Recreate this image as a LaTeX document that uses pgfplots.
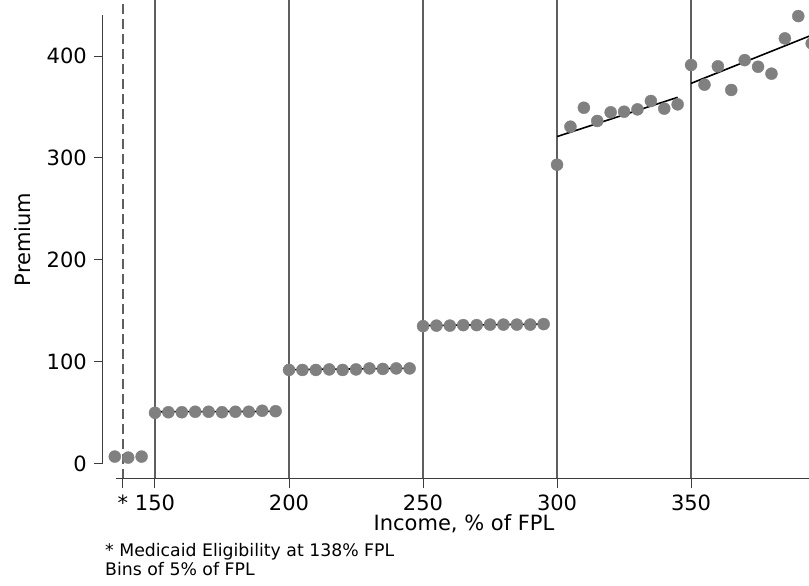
\documentclass[border=0pt]{standalone}
\usepackage{pgfplots}
\pgfplotsset{compat=1.18}
\usepackage{fontspec}
\setmainfont{DejaVu Sans}
\definecolor{ptgray}{RGB}{128,128,128}
\definecolor{vgray}{RGB}{95,95,95}
\definecolor{spgray}{RGB}{60,60,60}
\begin{document}
\fontsize{21}{25}\selectfont
\begin{tikzpicture}
\path[use as bounding box] (-103pt,-107pt) rectangle (706pt,479pt);
\begin{axis}[
  scale only axis, width=706pt, height=479pt,
  xmin=130.6, xmax=394, ymin=-15, ymax=455,
  axis lines*=left, axis line style={draw=none},
  xtick={138,150,200,250,300,350}, xticklabels={*,150,200,250,300,350},
  ytick={0,100,200,300,400},
  tick align=outside, major tick length=9pt,
  tick style={spgray, line width=1pt},
  xlabel={Income, \% of FPL}, ylabel={Premium},
  ticklabel style={font=\fontsize{21}{25}\selectfont},
  label style={font=\fontsize{21}{25}\selectfont},
  xlabel style={at={(axis description cs:0.5113,0)}, anchor=base, yshift=-52pt},
  ylabel style={at={(axis description cs:-0.1133,0.5)}, anchor=center},
  /pgf/number format/assume math mode=true,
  clip=false,
]
% vertical lines
\addplot[vgray, line width=1.6pt, dashed, dash pattern=on 10pt off 5pt] coordinates {(138,-15) (138,455)};
\addplot[vgray, line width=1.6pt] coordinates {(150,-15) (150,455)};
\addplot[vgray, line width=1.6pt] coordinates {(200,-15) (200,455)};
\addplot[vgray, line width=1.6pt] coordinates {(250,-15) (250,455)};
\addplot[vgray, line width=1.6pt] coordinates {(300,-15) (300,455)};
\addplot[vgray, line width=1.6pt] coordinates {(350,-15) (350,455)};
% binned points
\addplot[only marks, mark=*, mark size=6pt, ptgray, mark options={draw=none, fill=ptgray}] coordinates {
(135,7) (140,6) (145,7)
(150,50) (155,50.5) (160,50.5) (165,51) (170,51) (175,50.5) (180,51) (185,51) (190,52) (195,51.5)
(200,92) (205,92) (210,92) (215,92.5) (220,92) (225,92.5) (230,93.5) (235,93) (240,93.5) (245,93.5)
(250,135) (255,135.5) (260,135.5) (265,136) (270,136) (275,136.5) (280,136.5) (285,136.5) (290,136.5) (295,137)
(300,293.4) (305,330.7) (310,349.3) (315,336.3) (320,344.8) (325,345.4) (330,347.7) (335,355.9) (340,348.4) (345,352.6)
(350,391.2) (355,371.9) (360,389.9) (365,366.7) (370,396) (375,389.5) (380,382.7) (385,417.3) (390,439.2) (395,412.4)
};
% fitted lines
\addplot[black, line width=1.6pt] coordinates {(150,51) (195,51.3)};
\addplot[black, line width=1.6pt] coordinates {(200,92.3) (245,93.6)};
\addplot[black, line width=1.6pt] coordinates {(250,135.5) (295,137)};
\addplot[black, line width=1.6pt] coordinates {(300,321) (345,359.5)};
\addplot[black, line width=1.6pt] coordinates {(350,373.2) (395,420.5)};
% trimmed spines
\draw[spgray, line width=1pt] (axis cs:130.6,0) -- (axis cs:130.6,440);
\draw[spgray, line width=1pt] (axis cs:135.4,-15) -- (axis cs:394,-15);
\end{axis}
\node[anchor=base west, align=left, font=\fontsize{17.3}{19}\selectfont, inner sep=0pt] at (2pt,-97pt) {* Medicaid Eligibility at 138\% FPL\\Bins of 5\% of FPL};
\end{tikzpicture}
\end{document}
